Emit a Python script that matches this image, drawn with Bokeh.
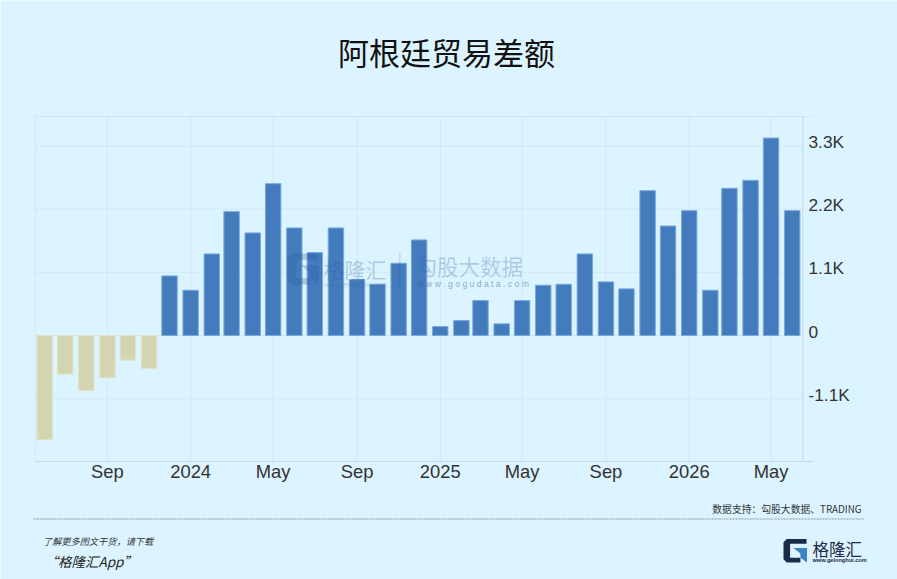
from datetime import datetime, timedelta
from bokeh.plotting import figure
from bokeh.embed import file_html
from bokeh.resources import INLINE
from bokeh.models import FixedTicker, Label, PolyAnnotation, Range1d, LinearAxis, DatetimeAxis, ColumnDataSource

TITLE = "阿根廷贸易差额"
months = ["2023-06","2023-07","2023-08","2023-09","2023-10","2023-11","2023-12",
          "2024-01","2024-02","2024-03","2024-04","2024-05","2024-06","2024-07","2024-08","2024-09","2024-10","2024-11","2024-12",
          "2025-01","2025-02","2025-03","2025-04","2025-05","2025-06","2025-07","2025-08","2025-09","2025-10","2025-11","2025-12",
          "2026-01","2026-02","2026-03","2026-04","2026-05","2026-06"]
balance = [-1816,-673,-963,-737,-429,-574,1038,
           789,1421,2158,1787,2645,1874,1444,1874,974,893,1259,1665,
           157,261,609,203,609,876,893,1421,934,812,2523,1908,
           2175,789,2564,2703,3440,2175]
x_tick_dates = ["2023-09","2024-01","2024-05","2024-09","2025-01","2025-05","2025-09","2026-01","2026-05"]
x_tick_labels = ["Sep","2024","May","Sep","2025","May","Sep","2026","May"]
y_ticks = [-1100,0,1100,2200,3300]
y_tick_labels = ["-1.1K","0","1.1K","2.2K","3.3K"]

BG = "#dcf4ff"
GRID = "#c4dde9"
AXIS = "#c6d8e6"
TXT = "#333333"
CJK = "Noto Sans CJK SC"
LAT = "Liberation Sans"
W_PAGE, H_PAGE = 897, 579

def d(s):
    return datetime.strptime(s + "-01", "%Y-%m-%d")
ms = lambda t: (t - datetime(1970, 1, 1)).total_seconds() * 1000

# page pixels <-> data: the frame fills the page, the plot box is a part of it
PX_DAY = 0.682
ANCHOR_PX = 44.2
def X(px):
    return d("2023-06") + timedelta(days=(px - ANCHOR_PX) / PX_DAY)
ZERO_PX = 335.0
PX_UNIT = 345.0 / 6010
def Y(py):
    return (ZERO_PX - py) / PX_UNIT
LEFT, RIGHT, AXIS_X, BOX_TOP, BOX_BOTTOM = 35, 813, 802.3, 116, 461

p = figure(width=W_PAGE, height=H_PAGE, x_axis_type=None, y_axis_type=None,
           x_range=(X(0), X(W_PAGE)), y_range=(Y(H_PAGE), Y(0)), output_backend="svg", toolbar_location=None,
           min_border_left=0, min_border_right=0, min_border_top=0, min_border_bottom=0,
           background_fill_color=BG, border_fill_color=BG, outline_line_color=None)
p.grid.visible = False

tick_x = [d(s) for s in x_tick_dates]
# dotted grid
p.segment(tick_x + [X(LEFT)], [Y(BOX_BOTTOM)] * (len(tick_x) + 1), tick_x + [X(LEFT)], [Y(BOX_TOP)] * (len(tick_x) + 1),
          line_color=GRID, line_dash="1 1", line_width=1)
p.segment([X(LEFT)] * len(y_ticks), y_ticks, [X(AXIS_X)] * len(y_ticks), y_ticks, line_color=GRID, line_dash="1 1", line_width=1)
p.segment([X(LEFT)], [Y(BOX_TOP)], [X(RIGHT)], [Y(BOX_TOP)], line_color=GRID, line_dash="1 1", line_width=1)
p.segment([X(AXIS_X)], [Y(BOX_TOP)], [X(AXIS_X)], [Y(BOX_BOTTOM)], line_color=AXIS, line_width=1)

# bars
dates = [d(m) for m in months]
pos = ColumnDataSource(dict(x=[a for a, b in zip(dates, balance) if b >= 0], top=[b for b in balance if b >= 0]))
neg = ColumnDataSource(dict(x=[a for a, b in zip(dates, balance) if b < 0], top=[b for b in balance if b < 0]))
W = 22.6 * 86400000
p.vbar(x="x", top="top", bottom=0, width=W, source=pos, fill_color="#447bbd", line_color="#78aadb", line_width=1)
p.vbar(x="x", top="top", bottom=0, width=W, source=neg, fill_color="#d3d5b0", line_color="#e0e3c6", line_width=1)

# x axis
tick_ms = [ms(t) for t in tick_x]
ax = DatetimeAxis(fixed_location=Y(BOX_BOTTOM), bounds=(ms(X(LEFT)), ms(X(RIGHT))))
ax.ticker = FixedTicker(ticks=tick_ms)
ax.major_label_overrides = dict(zip(tick_ms, x_tick_labels))
ax.major_tick_line_color = None
ax.minor_tick_line_color = None
ax.major_tick_out = 0
ax.major_tick_in = 0
ax.axis_line_color = AXIS
ax.major_label_text_font = LAT
ax.major_label_text_font_size = "18.4px"
ax.major_label_text_color = TXT
ax.major_label_standoff = -1
p.add_layout(ax, "below")

# y axis: labels sit 4px above their gridline, on a range offset by that much
shift = 4 / PX_UNIT
p.extra_y_ranges = {"labels": Range1d(Y(H_PAGE) - shift, Y(0) - shift)}
ya = LinearAxis(y_range_name="labels", fixed_location=ms(X(RIGHT)))
ya.ticker = FixedTicker(ticks=y_ticks)
ya.major_label_overrides = dict(zip(y_ticks, y_tick_labels))
ya.major_tick_line_color = None
ya.minor_tick_line_color = None
ya.major_tick_out = 0
ya.major_tick_in = 0
ya.axis_line_color = None
ya.major_label_text_font = LAT
ya.major_label_text_font_size = "17.3px"
ya.major_label_text_color = TXT
ya.major_label_standoff = -5
p.add_layout(ya, "right")

def label(x, y, text, size, color="#222222", font=CJK, style="normal", align="left", alpha=1.0):
    p.add_layout(Label(x=x, y=y, x_units="canvas", y_units="canvas", text=text,
                       text_font=font, text_font_size=f"{size}px", text_color=color, text_font_style=style,
                       text_align=align, text_baseline="middle", text_alpha=alpha))

def poly(xs, ys, color, alpha=1.0):
    p.add_layout(PolyAnnotation(xs=xs, ys=ys, xs_units="canvas", ys_units="canvas",
                                fill_color=color, fill_alpha=alpha, line_color=None))

def g_logo(ox, oy, s, dark, blue, alpha=1.0):
    fx = lambda a: ox + a * s
    fy = lambda a: oy + a * s
    poly([fx(.14), fx(.98), fx(.98), fx(.28), fx(.28), fx(.72), fx(.72), fx(.14), fx(0), fx(0)],
         [fy(0), fy(0), fy(.2), fy(.2), fy(.8), fy(.8), fy(1), fy(1), fy(.86), fy(.14)], dark, alpha)
    poly([fx(.42), fx(1), fx(1), fx(.72), fx(.72)], [fy(.38), fy(.38), fy(1), fy(.8), fy(.62)], blue, alpha)

label(446, 51, TITLE, 31, color="#111111", align="center")

# watermark
g_logo(287, 253, 31, "#2a5a9e", "#2a5a9e", .28)
label(323, 268, "格隆汇", 21, color="#2a5a9e", alpha=.28)
label(324, 283, "www.gelonghui.com", 6.5, color="#2a5a9e", alpha=.25)
poly([399, 399.8, 399.8, 399], [252, 252, 290, 290], "#2a5a9e", .3)
label(415, 265, "勾股大数据", 21.5, color="#2a66ad", alpha=.28)
label(417, 283, "w w w . g o g u d a t a . c o m", 8.6, color="#2a5a9e", font=LAT, alpha=.5)

# footer
p.segment([X(33)], [Y(518.5)], [X(864)], [Y(518.5)], line_color="#8f9397", line_dash="2 1", line_width=1)
label(861, 508, "数据支持：勾股大数据、TRADING", 9.8, color="#333333", align="right")
label(42.5, 540, "了解更多图文干货，请下载", 9.2, color="#333333", style="italic")
label(44, 560, "“格隆汇App”", 13.5, color="#222222", style="italic")
g_logo(783, 538.5, 23.5, "#1c2a4a", "#3c82c6")
label(812, 548.5, "格隆汇", 16.5, color="#1c2a4a")
label(812, 559.5, "www.gelonghui.com", 5.6, color="#1c2a4a", font=LAT, style="bold")

open("out.html", "w").write(file_html(p, INLINE))
